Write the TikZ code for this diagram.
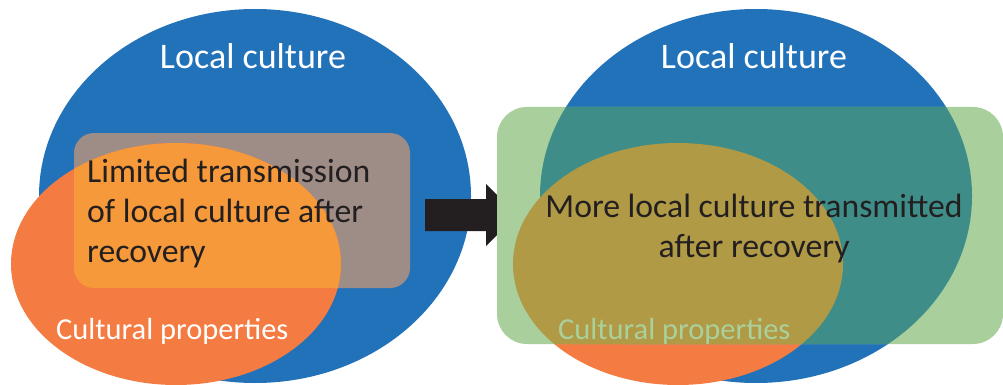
\documentclass[tikz,border=0pt]{standalone}
\usepackage{fontspec}
\setmainfont{Carlito}
\definecolor{cblue}{HTML}{2272B9}
\definecolor{corange}{HTML}{F47B42}
\definecolor{cgray}{HTML}{9D8D86}
\definecolor{clorange}{HTML}{F5993A}
\definecolor{cgreen}{HTML}{A8CF9C}
\definecolor{cteal}{HTML}{3E8D89}
\definecolor{colive}{HTML}{B09A46}
\definecolor{cdark}{HTML}{231F20}
\definecolor{cpale}{HTML}{AAD09C}
\begin{document}
\begin{tikzpicture}[x=1pt,y=-1pt,
  title/.style={text=white,font=\fontsize{36}{40}\selectfont,inner sep=0pt,anchor=base},
  body/.style={text=cdark,font=\fontsize{33.7}{40}\selectfont,inner sep=0pt},
  prop/.style={font=\fontsize{30.5}{36}\selectfont,inner sep=0pt,anchor=base west}]
\useasboundingbox (0,0) rectangle (1003,385);
% ---------- left diagram ----------
\fill[cblue] (255,196) ellipse [x radius=216,y radius=187];
\fill[cgray,rounded corners=20pt] (74,133) rectangle (410,288);
\fill[corange] (176,264) ellipse [x radius=165,y radius=121];
\begin{scope}
  \clip (176,264) ellipse [x radius=165,y radius=121];
  \fill[clorange,rounded corners=20pt] (74,133) rectangle (410,288);
\end{scope}
\node[title] (lt) at (253,69) {Local culture};
\node[body,align=left,anchor=base west] (lb) at (87,262) {Limited transmission\\of local culture after\\recovery};
\node[prop,text=white] (lp) at (56,339) {Cultural properties};
% ---------- arrow ----------
\fill[cdark] (425,199) -- (486,199) -- (486,184) -- (517,215) -- (486,246) -- (486,231) -- (425,231) -- cycle;
% ---------- right diagram ----------
\fill[cblue] (756,196) ellipse [x radius=216,y radius=187];
\fill[corange] (678,264) ellipse [x radius=165,y radius=121];
\fill[cgreen,rounded corners=30pt] (497,107) rectangle (1003,344);
\begin{scope}
  \clip[rounded corners=30pt] (497,107) rectangle (1003,344);
  \fill[cteal] (756,196) ellipse [x radius=216,y radius=187];
  \fill[colive] (678,264) ellipse [x radius=165,y radius=121];
\end{scope}
\node[title] (rt) at (754,69) {Local culture};
\node[body,align=center,anchor=base] (rb) at (754,257) {More local culture transmitted\\after recovery};
\node[prop,text=cpale] (rp) at (558,339) {Cultural properties};
\end{tikzpicture}
\end{document}
